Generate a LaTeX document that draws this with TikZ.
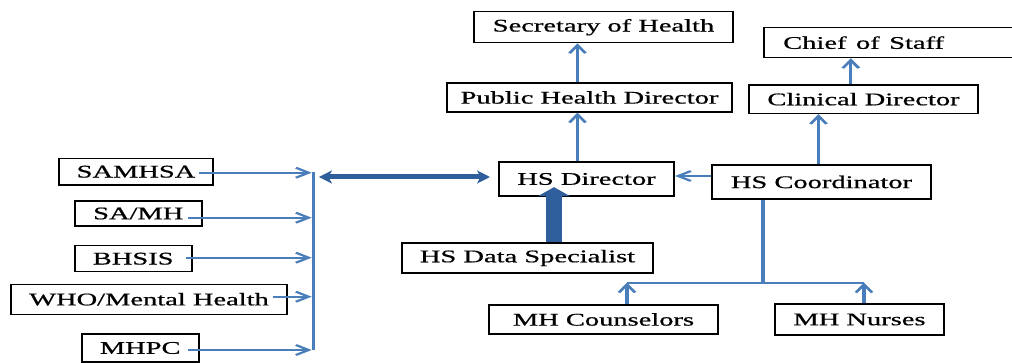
\documentclass[tikz,border=0pt]{standalone}
\usepackage{fontspec}
\newfontfamily\chartfont{Liberation Serif}[FakeBold=0.6]
\usetikzlibrary{arrows.meta,calc}
\definecolor{wireblue}{HTML}{4A7EBB}
\definecolor{deepblue}{HTML}{2F5E9C}
\tikzset{
  box/.style={draw=black, line width=1.3pt, inner sep=0pt,
    font=\chartfont\fontsize{17.8}{20}\selectfont},
  boxsize/.style 2 args={minimum width=#1*0.625pt, minimum height=#2*1pt},
  bluewire/.style={draw=wireblue, line width=2pt},
  bluearrow/.style={bluewire, -{Straight Barb[length=8pt,width=10pt]}},
  dblarrow/.style={draw=deepblue, line width=5pt,
    {Stealth[length=8pt,width=13pt,inset=2pt]}-{Stealth[length=8pt,width=13pt,inset=2pt]}},
  feedarrow/.style={draw=deepblue, line width=9.4pt,
    -{Triangle[length=9pt,width=19.5pt]}}
}
\begin{document}
\begin{tikzpicture}
% page frame: 1012 x 363 pt, y grows downward inside the scope
\fill[white] (0,0) rectangle (1012pt,-363pt);
\clip (0,0) rectangle (1012pt,-363pt);
% the chart is laid out in a horizontally condensed frame and widened by 1.6
\begin{scope}[transform canvas={xscale=1.6}, x=0.625pt, y=-1pt]

% ---- right-hand hierarchy ----
\node[box, boxsize={259}{31}] (sec) at (603.5,27.2) {Secretary of Health};
\node[box, anchor=north west, minimum height=30pt, text width=280*0.625pt,
  align=left] (chief) at (763,27) {\hspace*{12pt}Chief of Staff};
\node[box, boxsize={285}{29}] (phd) at (589.5,97.5) {Public Health Director};
\node[box, boxsize={229}{28.5}] (clin) at (863.5,99.2) {Clinical Director};
\node[box, boxsize={175}{34}] (hsd) at (586.5,179) {HS Director};
\node[box, boxsize={219}{34}] (hsc) at (821.5,182) {HS Coordinator};
\node[box, boxsize={251}{30}] (ds) at (527.5,258) {HS Data Specialist};
\node[box, boxsize={229}{29}] (mhc) at (603.5,319.5) {MH Counselors};
\node[box, boxsize={169}{31}] (mhn) at (859.5,319.5) {MH Nurses};

% ---- left-hand sources ----
\node[box, boxsize={154.6}{26.7}] (samhsa) at (136,171.7) {SAMHSA};
\node[box, boxsize={127.3}{25}] (samh) at (138.3,213.5) {SA/MH};
\node[box, boxsize={117}{26}] (bhsis) at (133.2,258.7) {BHSIS};
\node[box, boxsize={276.6}{30}] (who) at (149,299.3) {WHO/Mental Health};
\node[box, boxsize={117}{28}] (mhpc) at (140.2,348) {MHPC};

% collector bar and its inputs
\coordinate (bartop) at (313.3,171.7);
\coordinate (barbot) at (313.3,350);
\coordinate (in1) at (311.7,172.7);
\coordinate (in2) at (311.7,217.7);
\coordinate (in3) at (311.7,257.7);
\coordinate (in4) at (311.7,296.7);
\coordinate (in5) at (311.7,350);
\draw[bluewire] (bartop) -- (barbot);
\draw[bluearrow] ($(samhsa.east |- in1)+(-15.3,0)$) -- (in1);
\draw[bluearrow] ($(samh.east |- in2)+(-15,0)$) -- (in2);
\draw[bluearrow] ($(bhsis.east |- in3)+(-6.7,0)$) -- (in3);
\draw[bluearrow] ($(who.east |- in4)+(-15.6,0)$) -- (in4);
\draw[bluearrow] ($(mhpc.east |- in5)+(-11.7,0)$) -- (in5);

% exchange between the sources and the HS Director
\coordinate (hub) at (319,177);
\draw[dblarrow] (hub) -- ($(hsd.west |- hub)+(-8,0)$);

% data specialist feed
\draw[feedarrow] (ds.north -| 554,0) -- ($(hsd.south -| 554,0)+(0,-9.5)$);

% reporting lines
\draw[bluearrow] (phd.north -| 577.5,0) -- (sec.south -| 577.5,0);
\draw[bluearrow] (hsd.north -| 577.5,0) -- (phd.south -| 577.5,0);
\draw[bluearrow] (hsc.north -| 818.5,0) -- (clin.south -| 818.5,0);
\draw[bluearrow] (clin.north -| 850.8,0) -- (chief.south -| 850.8,0);
\draw[bluearrow] (hsc.west |- 0,176) -- (hsd.east |- 0,176);

% coordinator fork to the MH staff
\coordinate (fork) at (763,282.7);
\coordinate (forkL) at (627,282.7);
\coordinate (forkR) at (864,282.7);
\draw[bluewire] (hsc.south -| fork) -- (fork);
\draw[bluewire] (forkL) -- (forkR);
\draw[bluearrow] (mhc.north -| forkL) -- (forkL);
\draw[bluearrow] (mhn.north -| forkR) -- (forkR);
\end{scope}
\end{tikzpicture}
\end{document}
